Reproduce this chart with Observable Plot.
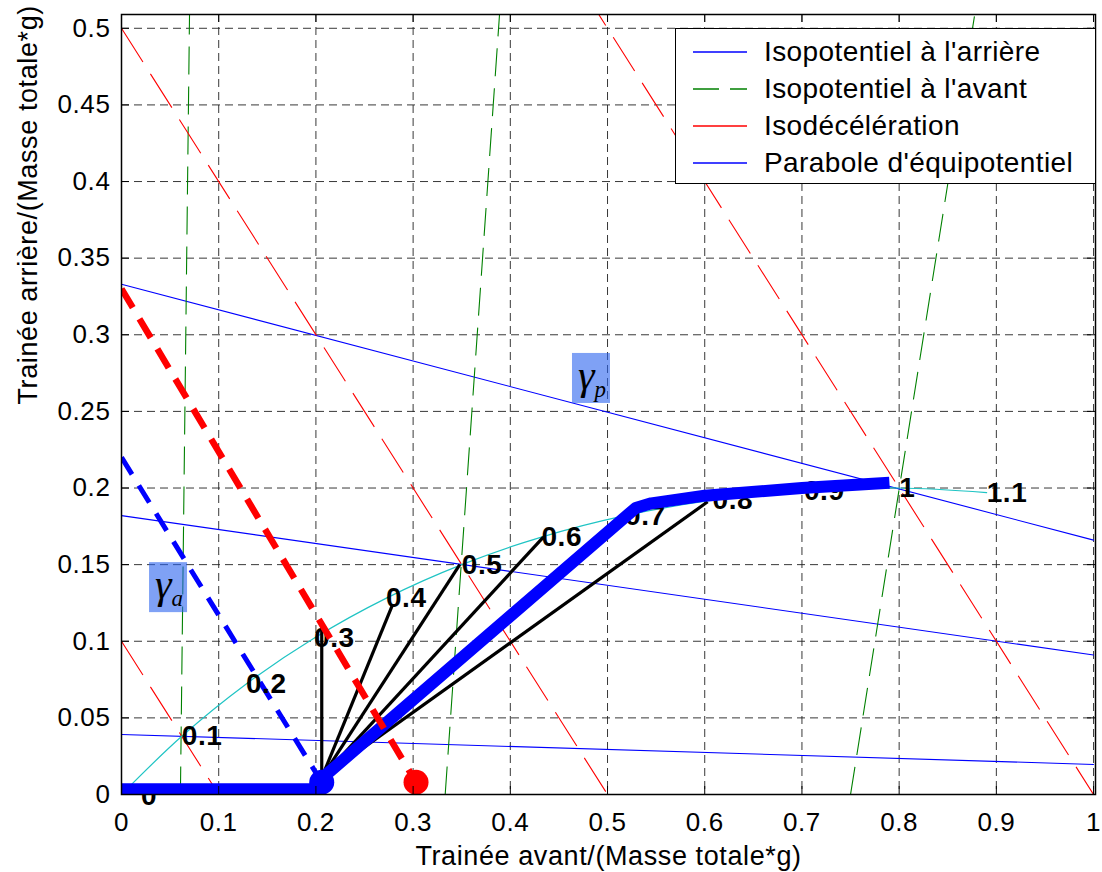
<!DOCTYPE html>
<html>
<head>
<meta charset="utf-8">
<script src="https://cdn.jsdelivr.net/npm/d3@7"></script>
<script src="https://cdn.jsdelivr.net/npm/@observablehq/plot@0.6"></script>
<style>
  html, body { margin: 0; padding: 0; background: #fff; }
  #chart { position: relative; width: 1102px; height: 872px; overflow: hidden; }
  #legend { position: absolute; left: 675px; top: 28px; width: 421px; height: 156px; box-sizing: border-box;
            border: 1.5px solid #000; background: #fff; font-family: 'Liberation Sans', Arial, sans-serif; font-size: 28px; padding-top: 4px; letter-spacing: 0.4px; }
  .row { display: flex; align-items: center; height: 37px; }
  .row svg { margin-left: 17px; margin-right: 17px; }
</style>
</head>
<body>
<div id="chart"></div>
<script>
// ---- axis ticks ----
const xTicks = [0, 0.1, 0.2, 0.3, 0.4, 0.5, 0.6, 0.7, 0.8, 0.9, 1];
const yTicks = [0, 0.05, 0.1, 0.15, 0.2, 0.25, 0.3, 0.35, 0.4, 0.45, 0.5];

// ---- Isopotentiel à l'arrière (value at x=0 and at x=1) ----
const rearY0 = [0.333, 0.182, 0.0392];
const rearY1 = [0.166, 0.091, 0.0196];

// ---- Isopotentiel à l'avant (x at y=0 and x at top y) ----
const frontX0 = [0.0606, 0.333, 0.750];
const frontXTop = [0.070, 0.389, 0.878];
const frontYTop = [0.51, 0.51, 0.51];

// ---- Isodécélération (x + y = c) ----
const decelSums = [0.1, 0.5, 1.0];

// ---- Parabole d'équipotentiel (deceleration labels and points) ----
const decelLabels = ["0", "0.1", "0.2", "0.3", "0.4", "0.5", "0.6", "0.7", "0.8", "0.9", "1", "1.1"];
const parabX = [0, 0.062, 0.128, 0.198, 0.272, 0.350, 0.432, 0.518, 0.608, 0.702, 0.800, 0.890];
const parabY = [0, 0.038, 0.072, 0.102, 0.128, 0.150, 0.168, 0.182, 0.192, 0.198, 0.200, 0.197];
const labelX = [0.020, 0.062, 0.128, 0.198, 0.272, 0.350, 0.432, 0.518, 0.608, 0.702, 0.800, 0.890];
const labelY = [-0.001, 0.038, 0.072, 0.102, 0.128, 0.150, 0.168, 0.182, 0.192, 0.198, 0.200, 0.197];

// ---- actual braking distribution (thick blue) ----
const realX = [0, 0.200, 0.207, 0.529, 0.545, 0.600, 0.700, 0.790];
const realY = [0.0035, 0.0035, 0.011, 0.187, 0.190, 0.195, 0.200, 0.2035];

// ---- black fan from the knee point ----
const fanOriginX = [0.206];
const fanOriginY = [0.011];
const fanX = [0.206, 0.279, 0.348, 0.434, 0.527, 0.603];
const fanY = [0.112, 0.124, 0.150, 0.168, 0.184, 0.191];

// ---- thick dashed limit lines ----
const blueDashX = [0, 0.206];
const blueDashY = [0.22, 0.008];
const redDashX = [0, 0.303];
const redDashY = [0.33, 0.008];

// ---- end dots ----
const dotX = [0.206, 0.303];
const dotY = [0.008, 0.008];
const dotColor = ["#0000ff", "#ff0000"];

// ---- gamma annotations ----
const gammaSym = ["\u03b3", "\u03b3"];
const gammaSub = ["a", "p"];
const gammaX = [0.0484, 0.4835];
const gammaY = [0.135, 0.2715];

// ---- legend ----
const legendLabels = ["Isopotentiel à l'arrière", "Isopotentiel à l'avant", "Isodécélération", "Parabole d'équipotentiel"];
const legendColors = ["#0000ff", "#008000", "#ff0000", "#0000ff"];
const legendDash = ["none", "26,11", "none", "none"];

// ---- build tables ----
const rearRows = rearY0.flatMap((v, i) => [{id: i, x: 0, y: v}, {id: i, x: 1, y: rearY1[i]}]);
const frontRows = frontX0.flatMap((v, i) => [{id: i, x: v, y: 0}, {id: i, x: frontXTop[i], y: frontYTop[i]}]);
const decelRows = decelSums.flatMap((c, i) => [{id: i, x: 0, y: c}, {id: i, x: c, y: 0}]);
const parabRows = parabX.map((x, i) => ({x, y: parabY[i]}));
const labelRows = decelLabels.map((t, i) => ({t, x: labelX[i], y: labelY[i]}));
const realRows = realX.map((x, i) => ({x, y: realY[i]}));
const fanRows = fanX.map((x, i) => ({x1: fanOriginX[0], y1: fanOriginY[0], x2: x, y2: fanY[i]}));
const blueDashRows = blueDashX.map((x, i) => ({x, y: blueDashY[i]}));
const redDashRows = redDashX.map((x, i) => ({x, y: redDashY[i]}));
const dotRows = dotX.map((x, i) => ({x, y: dotY[i], c: dotColor[i]}));
const gammaRows = gammaSym.map((s, i) => ({s, sub: gammaSub[i], x: gammaX[i], y: gammaY[i]}));

const fmt = d => String(+d.toFixed(2));
const innerW = 1102 - 121 - 7, innerH = 872 - 14 - 78;
const butt = {strokeLinecap: "butt", strokeLinejoin: "miter"};

const chart = Plot.plot({
  width: 1102,
  height: 872,
  marginLeft: 121,
  marginRight: 7,
  marginTop: 14,
  marginBottom: 78,
  x: {domain: [0, 1.002]},
  y: {domain: [0, 0.509]},
  style: {fontFamily: "'Liberation Sans', Arial, sans-serif", fontSize: "26px", color: "#000", background: "#fff", overflow: "visible", letterSpacing: "0.6px"},
  marks: [
    Plot.gridX(xTicks, {stroke: "#222", strokeOpacity: 0.9, strokeWidth: 1, strokeDasharray: "8,5"}),
    Plot.gridY(yTicks, {stroke: "#222", strokeOpacity: 0.9, strokeWidth: 1, strokeDasharray: "8,5"}),
    // thin family lines
    Plot.line(rearRows, {x: "x", y: "y", z: "id", stroke: "#0000ff", strokeWidth: 1.1, clip: true}),
    Plot.line(frontRows, {x: "x", y: "y", z: "id", stroke: "#008000", strokeWidth: 1.1, strokeDasharray: "28,12", clip: true, ...butt}),
    Plot.line(decelRows, {x: "x", y: "y", z: "id", stroke: "#ff0000", strokeWidth: 1.1, strokeDasharray: "40,14", clip: true, ...butt}),
    Plot.line(parabRows, {x: "x", y: "y", stroke: "#1fc4c4", strokeWidth: 1.2, curve: "catmull-rom", clip: true}),
    // thick dashed blue
    Plot.line(blueDashRows, {x: "x", y: "y", stroke: "#0000ff", strokeWidth: 5, strokeDasharray: "20,13", clip: true, ...butt}),
    // value labels
    Plot.text(labelRows, {x: "x", y: "y", text: "t", textAnchor: "start", lineAnchor: "middle", fontWeight: "bold", fontSize: 28, fill: "#000"}),
    // black fan
    Plot.link(fanRows, {x1: "x1", y1: "y1", x2: "x2", y2: "y2", stroke: "#000", strokeWidth: 3.2}),
    // thick blue actual distribution
    Plot.line(realRows, {x: "x", y: "y", stroke: "#0000ff", strokeWidth: 12, strokeLinecap: "butt", strokeLinejoin: "round", clip: true}),
    // thick red dashed
    Plot.line(redDashRows, {x: "x", y: "y", stroke: "#ff0000", strokeWidth: 6.5, strokeDasharray: "22,13", clip: true, ...butt}),
    // end dots
    Plot.dot(dotRows, {x: "x", y: "y", r: 12.5, fill: "c", stroke: null}),
    // gamma boxes
    Plot.rect(gammaRows, {x1: "x", x2: "x", y1: "y", y2: "y", insetLeft: -19, insetRight: -19, insetTop: -25, insetBottom: -25, fill: "#2a62ee", fillOpacity: 0.6}),
    Plot.text(gammaRows, {x: "x", y: "y", text: "s", fontFamily: "'Liberation Serif', 'DejaVu Serif', serif", fontStyle: "italic", fontSize: 42, dx: -5, dy: -3, fill: "#000", letterSpacing: 0}),
    Plot.text(gammaRows, {x: "x", y: "y", text: "sub", fontFamily: "'Liberation Serif', 'DejaVu Serif', serif", fontStyle: "italic", fontSize: 23, dx: 9, dy: 11, fill: "#000"}),
    // inward ticks
    Plot.tickX(xTicks, {x: d => d, insetTop: innerH - 8, stroke: "#000"}),
    Plot.tickX(xTicks, {x: d => d, insetBottom: innerH - 8, stroke: "#000"}),
    Plot.tickY(yTicks, {y: d => d, insetRight: innerW - 8, stroke: "#000"}),
    Plot.tickY(yTicks, {y: d => d, insetLeft: innerW - 8, stroke: "#000"}),
    Plot.frame({stroke: "#000", strokeWidth: 1.5}),
    Plot.axisX({ticks: xTicks, tickFormat: fmt, tickSize: 0, tickPadding: 18, label: null}),
    Plot.axisY({ticks: yTicks, tickFormat: fmt, tickSize: 0, tickPadding: 11, label: null}),
    Plot.text(["Trainée avant/(Masse totale*g)"], {frameAnchor: "bottom", text: d => d, dy: 62, fontSize: 27, lineAnchor: "middle"}),
    Plot.text(["Trainée arrière/(Masse totale*g)"], {frameAnchor: "left", text: d => d, dx: -93, rotate: -90, fontSize: 27, lineAnchor: "middle"})
  ]
});

const host = document.getElementById("chart");
host.appendChild(chart);

// legend overlay
const leg = document.createElement("div");
leg.id = "legend";
legendLabels.forEach((lab, i) => {
  const row = document.createElement("div");
  row.className = "row";
  const ns = "http://www.w3.org/2000/svg";
  const s = document.createElementNS(ns, "svg");
  s.setAttribute("width", "54");
  s.setAttribute("height", "10");
  const l = document.createElementNS(ns, "line");
  l.setAttribute("x1", "0"); l.setAttribute("x2", "54");
  l.setAttribute("y1", "5"); l.setAttribute("y2", "5");
  l.setAttribute("stroke", legendColors[i]);
  l.setAttribute("stroke-width", "1.3");
  if (legendDash[i] !== "none") l.setAttribute("stroke-dasharray", legendDash[i]);
  s.appendChild(l);
  row.appendChild(s);
  const t = document.createElement("span");
  t.textContent = lab;
  row.appendChild(t);
  leg.appendChild(row);
});
host.appendChild(leg);
</script>
</body>
</html>
